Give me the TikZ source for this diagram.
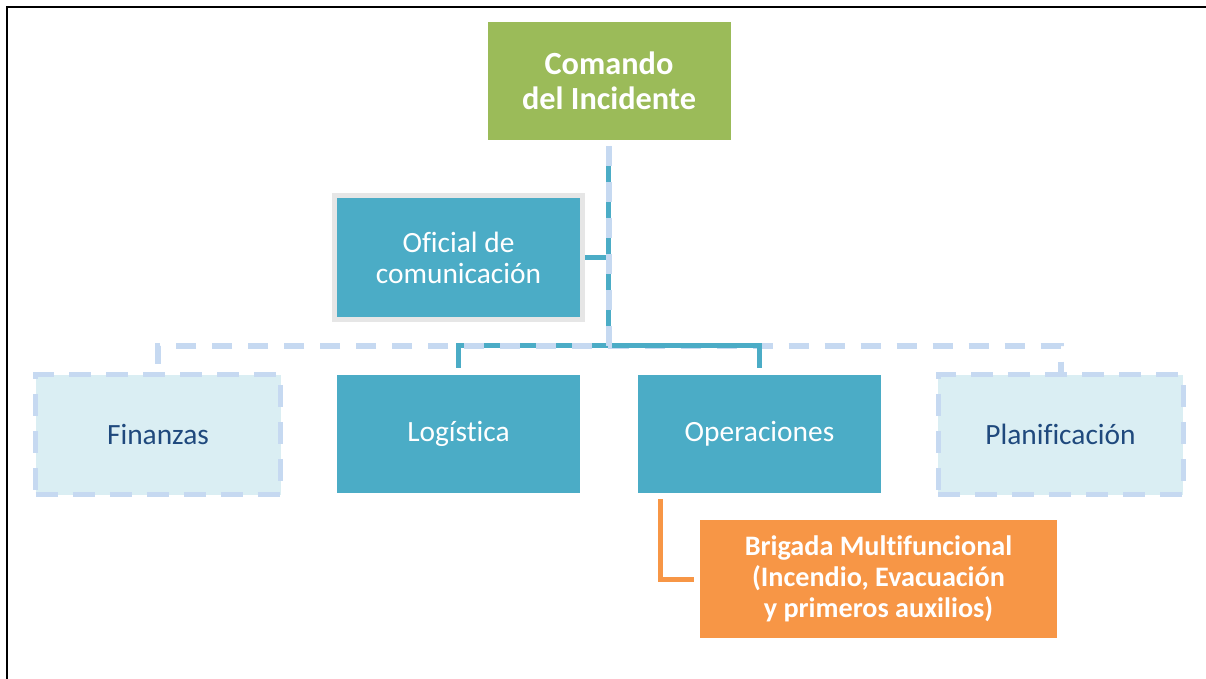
\documentclass[tikz,border=0pt]{standalone}
\usepackage{fontspec}
\setmainfont[Ligatures=NoCommon]{Carlito}
\definecolor{cmdgreen}{HTML}{9BBB59}
\definecolor{teal}{HTML}{4BACC6}
\definecolor{lightfill}{HTML}{DAEEF3}
\definecolor{lightline}{HTML}{C6D9F1}
\definecolor{darkblue}{HTML}{1F497D}
\definecolor{orangeb}{HTML}{F79646}
\definecolor{grayb}{HTML}{E6E6E6}
\begin{document}
\begin{tikzpicture}[x=1pt,y=1pt,
  boxbase/.style={rectangle, inner sep=0pt, align=center, text=white},
  cmdbox/.style={boxbase, fill=cmdgreen, minimum width=243pt, minimum height=118pt, font=\fontsize{32.3}{35}\selectfont\bfseries},
  tealbox/.style={boxbase, fill=teal, minimum width=243pt, minimum height=118pt, font=\fontsize{29.4}{31}\selectfont},
  offbox/.style={boxbase, fill=teal, draw=grayb, line width=5pt, minimum width=248pt, minimum height=124pt, font=\fontsize{29.4}{31}\selectfont},
  dashbox/.style={boxbase, fill=lightfill, draw=lightline, line width=5pt, dash pattern=on 22pt off 15pt, minimum width=245pt, minimum height=120pt, text=darkblue, font=\fontsize{29.4}{31}\selectfont},
  orgbox/.style={boxbase, fill=orangeb, minimum width=357pt, minimum height=118pt, font=\fontsize{28.2}{31}\selectfont\bfseries},
  tealline/.style={draw=teal, line width=5pt},
  lightdash/.style={draw=lightline, line width=6pt, dash pattern=on 20pt off 16pt},
  orgline/.style={draw=orangeb, line width=5pt}
]
\useasboundingbox (0,0) rectangle (1206,-679);
\fill[white] (0,0) rectangle (1206,-679);
% frame
\draw[line width=2pt, black] (7,-679) -- (7,-6.7) -- (1206,-6.7);

% nodes
\node[cmdbox] (cmd) at (609,-81) {Comando\\del Incidente};
\node[offbox] (ofi) at (458.5,-257.5) {Oficial de\\comunicación};
\node[dashbox] (fin) at (158,-434.5) {Finanzas};
\node[tealbox] (log) at (458.5,-434) {Logística};
\node[tealbox] (ope) at (759.5,-434) {Operaciones};
\node[dashbox] (pla) at (1060.5,-434.5) {Planificación};
\node[orgbox] (bri) at (878.5,-579) {Brigada Multifuncional\\(Incendio, Evacuación\\y primeros auxilios)};

% junction coordinates
\coordinate (top) at (608.5,-146);
\coordinate (hub) at (608.5,-345.5);
\coordinate (ofj) at (608.5,-257);

% connector to Planificacion (below teal)
\draw[lightdash] (hub) -| (pla.north);
% teal connectors
\draw[tealline] (top) -- (hub);
\draw[tealline] (hub) -| ([yshift=7pt]log.north);
\draw[tealline] (hub) -| ([yshift=7pt]ope.north);
\draw[tealline] (ofi.east |- ofj) -- (ofj);
% connector to Finanzas (above teal)
\draw[lightdash] (top) -- (hub) -| (fin.north);
% orange connector
\draw[orgline] ([xshift=-99pt,yshift=-6pt]ope.south) |- ([xshift=-6pt]bri.west);
\end{tikzpicture}
\end{document}
